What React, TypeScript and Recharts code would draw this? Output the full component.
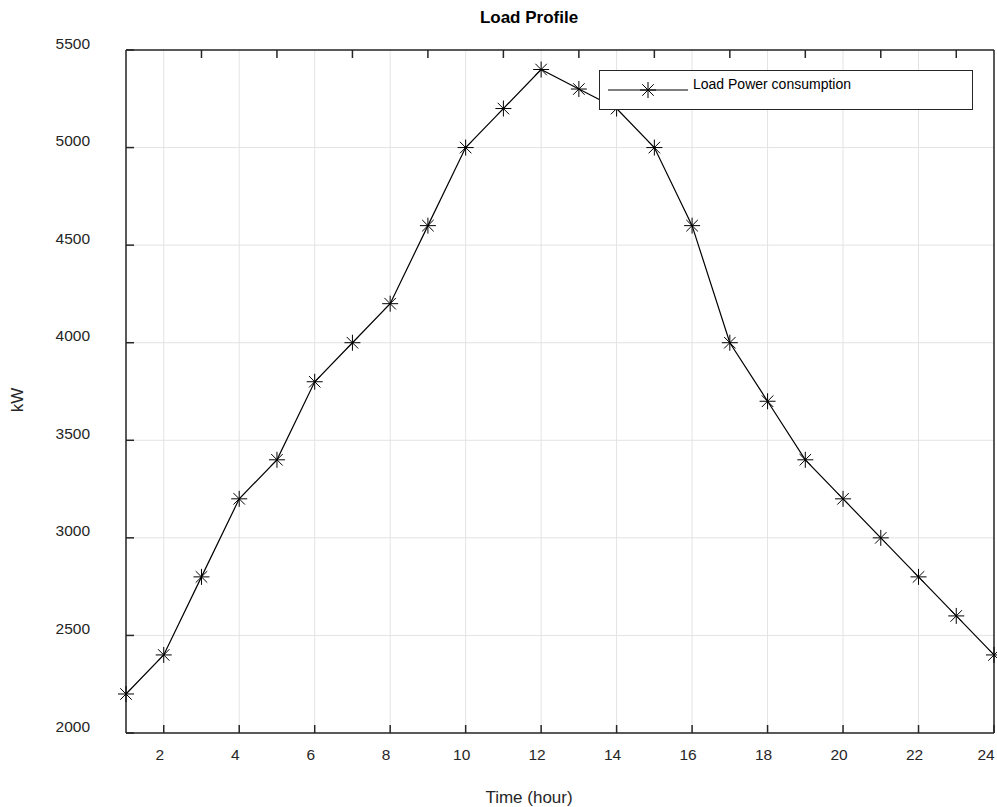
import React from 'react';
import { LineChart, Line, XAxis, YAxis, CartesianGrid, Legend, Label } from 'recharts';

// hourly load, kW
const hours = [1, 2, 3, 4, 5, 6, 7, 8, 9, 10, 11, 12, 13, 14, 15, 16, 17, 18, 19, 20, 21, 22, 23, 24];
const loadKw = [2200, 2400, 2800, 3200, 3400, 3800, 4000, 4200, 4600, 5000, 5200, 5400, 5300, 5200, 5000, 4600, 4000, 3700, 3400, 3200, 3000, 2800, 2600, 2400];

const xTicks = [2, 4, 6, 8, 10, 12, 14, 16, 18, 20, 22, 24];
const yTicks = [2000, 2500, 3000, 3500, 4000, 4500, 5000, 5500];

const data = hours.map((h, i) => ({ hour: h, load: loadKw[i] }));

const FONT = '"Liberation Sans", Arial, Helvetica, sans-serif';
const AXIS = '#262626';
const TICK_LEN = 8;

const Asterisk = ({ cx, cy, r = 8 }: { cx: number; cy: number; r?: number }) => {
  const d = r * 0.72;
  return (
    <g stroke="#000" strokeWidth={1}>
      <line x1={cx - r} y1={cy} x2={cx + r} y2={cy} />
      <line x1={cx} y1={cy - r} x2={cx} y2={cy + r} />
      <line x1={cx - d} y1={cy - d} x2={cx + d} y2={cy + d} />
      <line x1={cx - d} y1={cy + d} x2={cx + d} y2={cy - d} />
    </g>
  );
};

// ticks point inward, like a boxed axes
const BottomTick = (props: any) => {
  const { x, y, payload } = props;
  // keep the last label inside the canvas
  const tx = payload.value === 24 ? x - 8 : x - 4;
  return (
    <g>
      <line x1={x} y1={y} x2={x} y2={y - TICK_LEN} stroke={AXIS} strokeWidth={1.5} />
      <text x={tx} y={y + 21} textAnchor="middle" dominantBaseline="central" fontSize={15.5} fill={AXIS} fontFamily={FONT}>
        {payload.value}
      </text>
    </g>
  );
};

const TopTick = (props: any) => {
  const { x, y } = props;
  return <line x1={x} y1={y} x2={x} y2={y + TICK_LEN} stroke={AXIS} strokeWidth={1.5} />;
};

const LeftTick = (props: any) => {
  const { x, y, payload } = props;
  return (
    <g>
      <line x1={x} y1={y} x2={x + TICK_LEN} y2={y} stroke={AXIS} strokeWidth={1.5} />
      <text x={x - 36} y={y - 7} textAnchor="end" dominantBaseline="central" fontSize={15.5} fill={AXIS} fontFamily={FONT}>
        {payload.value}
      </text>
    </g>
  );
};

const RightTick = (props: any) => {
  const { x, y } = props;
  return <line x1={x} y1={y} x2={x - TICK_LEN} y2={y} stroke={AXIS} strokeWidth={1.5} />;
};

const LegendBox = () => (
  <div
    style={{
      width: 374,
      height: 40,
      boxSizing: 'border-box',
      border: `1px solid ${AXIS}`,
      background: '#fff',
      position: 'relative',
    }}
  >
    <svg width={92} height={38} style={{ position: 'absolute', left: 0, top: 0 }}>
      <line x1={8} y1={19} x2={88} y2={19} stroke="#000" strokeWidth={1} />
      <Asterisk cx={48} cy={19} />
    </svg>
    <span
      style={{
        position: 'absolute',
        left: 93,
        top: 5,
        fontSize: 14,
        lineHeight: '16px',
        fontFamily: FONT,
        color: '#000',
        whiteSpace: 'nowrap',
      }}
    >
      Load Power consumption
    </span>
  </div>
);

export default function App() {
  return (
    <div style={{ position: 'absolute', left: 0, top: 0, width: 997, height: 807, background: '#fff' }}>
      <div
        style={{
          position: 'absolute',
          left: 429,
          width: 200,
          top: 8,
          textAlign: 'center',
          fontFamily: FONT,
          fontWeight: 'bold',
          fontSize: 17,
          lineHeight: '20px',
          color: '#000',
        }}
      >
        Load Profile
      </div>
      <LineChart width={997} height={807} data={data} margin={{ top: 49, right: 2, bottom: 44, left: 66 }}>
        <CartesianGrid stroke="#e3e3e3" strokeWidth={1} />
        <XAxis
          dataKey="hour"
          type="number"
          domain={[1, 24]}
          ticks={xTicks}
          height={30}
          tickSize={0}
          tickMargin={0}
          tickLine={false}
          tick={<BottomTick />}
          axisLine={{ stroke: AXIS, strokeWidth: 1.5 }}
          interval={0}
        >
          <Label
            content={() => (
              <text x={529} y={797} textAnchor="middle" dominantBaseline="central" fontSize={17} fill={AXIS} fontFamily={FONT}>
                Time (hour)
              </text>
            )}
          />
        </XAxis>
        <XAxis
          xAxisId="top"
          orientation="top"
          type="number"
          domain={[1, 24]}
          ticks={xTicks}
          height={1}
          tickSize={0}
          tickMargin={0}
          tickLine={false}
          tick={<TopTick />}
          axisLine={{ stroke: AXIS, strokeWidth: 1.5 }}
          interval={0}
        />
        <YAxis
          type="number"
          domain={[2000, 5500]}
          ticks={yTicks}
          width={60}
          tickSize={0}
          tickMargin={0}
          tickLine={false}
          tick={<LeftTick />}
          axisLine={{ stroke: AXIS, strokeWidth: 1.5 }}
          interval={0}
        >
          <Label
            content={() => (
              <text x={17} y={400} textAnchor="middle" dominantBaseline="central" fontSize={17} fill={AXIS} fontFamily={FONT} transform="rotate(-90 17 400)">
                kW
              </text>
            )}
          />
        </YAxis>
        <YAxis
          yAxisId="right"
          orientation="right"
          type="number"
          domain={[2000, 5500]}
          ticks={yTicks}
          width={1}
          tickSize={0}
          tickMargin={0}
          tickLine={false}
          tick={<RightTick />}
          axisLine={{ stroke: AXIS, strokeWidth: 1.5 }}
          interval={0}
        />
        <Line
          type="linear"
          dataKey="load"
          name="Load Power consumption"
          stroke="#000"
          strokeWidth={1.2}
          dot={(p: any) => <Asterisk key={p.index} cx={p.cx} cy={p.cy} />}
          activeDot={false}
          isAnimationActive={false}
        />
        <Legend
          layout="horizontal"
          verticalAlign="middle"
          align="center"
          content={<LegendBox />}
          wrapperStyle={{ left: 599, top: 70, width: 374, height: 40 }}
        />
      </LineChart>
    </div>
  );
}
